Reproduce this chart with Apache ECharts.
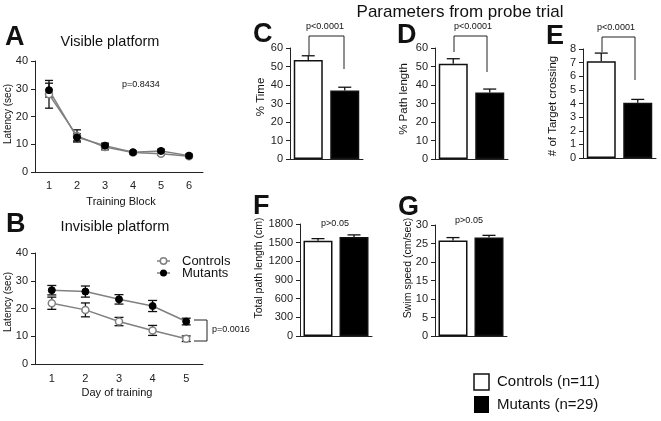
<!DOCTYPE html>
<html><head><meta charset="utf-8">
<script src="https://cdn.jsdelivr.net/npm/echarts@6/dist/echarts.min.js"></script>
<style>html,body{margin:0;padding:0;background:#fff}#c{width:661px;height:421px}</style>
</head><body><div id="c"></div>
<script>
// ---- data ----
const blocksA = ['1','2','3','4','5','6'];
const visCtrl = [28, 13, 9, 7, 6.6, 5.7];
const visCtrlErr = [5, 2.2, 1, 0.6, 0.6, 0.5];
const visMut = [29.5, 12.5, 9.5, 7.1, 7.6, 5.9];
const visMutErr = [2.5, 1.3, 0.9, 0.5, 0.6, 0.5];

const daysB = ['1','2','3','4','5'];
const invCtrl = [21.9, 19.5, 15.3, 12.1, 9.1];
const invCtrlErr = [2.2, 2.5, 1.5, 1.8, 1.0];
const invMut = [26.6, 26.1, 23.3, 20.9, 15.3];
const invMutErr = [1.7, 2.0, 1.7, 2.0, 1.2];

const groups = ['Controls', 'Mutants'];
const pctTime = [53.5, 37.0];      const pctTimeErr = [2.3, 1.8];
const pctPath = [51.5, 36.0];      const pctPathErr = [2.7, 1.8];
const crossings = [7.1, 4.05];     const crossingsErr = [0.6, 0.25];
const totalPath = [1530, 1590];    const totalPathErr = [35, 35];
const swimSpeed = [25.8, 26.6];    const swimSpeedErr = [0.8, 0.6];

// ---- chart ----
const FF = 'Liberation Sans, Arial, Helvetica, sans-serif';
const AX = '#222';
const chart = echarts.init(document.getElementById('c'), null, {renderer:'canvas'});

const grids = [
  {left:35, top:61, width:168, height:111},
  {left:35, top:253, width:168, height:111},
  {left:290, top:48, width:73, height:111},
  {left:435, top:48, width:73, height:111},
  {left:583, top:49, width:73, height:109},
  {left:300, top:224, width:72, height:112},
  {left:435, top:225, width:72, height:111}
];

function xAx(i, data, showLabel, margin) {
  return {gridIndex:i, type:'category', data:data, boundaryGap:true,
    axisLine:{lineStyle:{color:AX, width:1}},
    axisTick:{alignWithLabel:true, length:3, lineStyle:{color:AX}},
    axisLabel:{show:showLabel, color:AX, fontFamily:FF, fontSize:11, margin:margin||7},
    splitLine:{show:false}};
}
function yAx(i, max, interval) {
  return {gridIndex:i, type:'value', min:0, max:max, interval:interval,
    axisLine:{show:true, lineStyle:{color:AX, width:1}},
    axisTick:{show:true, length:4, lineStyle:{color:AX}},
    axisLabel:{color:AX, fontFamily:FF, fontSize:11, margin:7, formatter:(v)=>String(v)},
    splitLine:{show:false}};
}

function errSeries(idx, means, errs, upOnly, cap) {
  return {type:'custom', xAxisIndex:idx, yAxisIndex:idx, z:3, silent:true, clip:false,
    data: means.map((m,i)=>[i, m, errs[i]]),
    renderItem: function(params, api){
      const x = api.value(0), m = api.value(1), e = api.value(2);
      const t = api.coord([x, m+e]);
      const b = api.coord([x, upOnly ? m : m-e]);
      const st = {stroke:'#111', lineWidth:1.3};
      const ch = [
        {type:'line', shape:{x1:t[0], y1:t[1], x2:b[0], y2:b[1]}, style:st},
        {type:'line', shape:{x1:t[0]-cap/2, y1:t[1], x2:t[0]+cap/2, y2:t[1]}, style:st}
      ];
      if (!upOnly) ch.push({type:'line', shape:{x1:b[0]-cap/2, y1:b[1], x2:b[0]+cap/2, y2:b[1]}, style:st});
      return {type:'group', children:ch};
    }};
}
function lineSeries(idx, vals, filled) {
  return {type:'line', xAxisIndex:idx, yAxisIndex:idx, data:vals, z:4,
    symbol:'circle', symbolSize:7,
    lineStyle:{color:'#808080', width:1.5},
    itemStyle: filled ? {color:'#000', borderColor:'#000', borderWidth:1}
                      : {color:'#fff', borderColor:'#808080', borderWidth:1.5}};
}
function barSeries(idx, vals) {
  return {type:'bar', xAxisIndex:idx, yAxisIndex:idx, barWidth:29, z:2,
    data: vals.map((v,i)=>({value:v, itemStyle:{color: i===0 ? '#fff' : '#000', borderColor:'#111', borderWidth:1.5}}))};
}

function txt(x, y, text, size, opts) {
  opts = opts || {};
  return {type:'text', x:x, y:y, rotation: opts.rot || 0, z:10,
    style:{text:text, fontSize:size, fontFamily:FF, fontWeight: opts.bold ? 'bold' : 'normal',
      fill:'#111', align: opts.align || 'center', verticalAlign:'middle',
      textAlign: opts.align || 'center', textVerticalAlign:'middle'}};
}
function pl(points) {
  return {type:'polyline', z:10, shape:{points:points}, style:{stroke:'#222', lineWidth:1, fill:null}};
}
const R = Math.PI/2;

const graphics = [
  txt(460, 12, 'Parameters from probe trial', 17),
  txt(5, 38, 'A', 27, {bold:true, align:'left'}),
  txt(6, 225, 'B', 27, {bold:true, align:'left'}),
  txt(253, 35, 'C', 27, {bold:true, align:'left'}),
  txt(397, 36, 'D', 27, {bold:true, align:'left'}),
  txt(546, 37, 'E', 27, {bold:true, align:'left'}),
  txt(253, 207, 'F', 27, {bold:true, align:'left'}),
  txt(398, 208, 'G', 27, {bold:true, align:'left'}),
  txt(110, 42, 'Visible platform', 14.5),
  txt(115, 227, 'Invisible platform', 14.5),
  txt(8, 114, 'Latency (sec)', 10, {rot:R}),
  txt(8, 302, 'Latency (sec)', 10, {rot:R}),
  txt(121, 202, 'Training Block', 11),
  txt(117, 393, 'Day of training', 11),
  txt(122, 85, 'p=0.8434', 9, {align:'left'}),
  txt(212, 330, 'p=0.0016', 9, {align:'left'}),
  pl([[194,320],[207,320],[207,341],[194,341]]),
  // B legend
  {type:'line', z:10, shape:{x1:157, y1:261, x2:170, y2:261}, style:{stroke:'#808080', lineWidth:1.5}},
  {type:'circle', z:11, shape:{cx:163.5, cy:261, r:3.2}, style:{fill:'#fff', stroke:'#808080', lineWidth:1.5}},
  {type:'line', z:10, shape:{x1:157, y1:273, x2:170, y2:273}, style:{stroke:'#808080', lineWidth:1.5}},
  {type:'circle', z:11, shape:{cx:163.5, cy:273, r:3.5}, style:{fill:'#000'}},
  txt(182, 261, 'Controls', 13, {align:'left'}),
  txt(182, 273, 'Mutants', 13, {align:'left'}),
  // bar panel axis names
  txt(261, 97, '% Time', 11.5, {rot:R}),
  txt(404, 99, '% Path length', 11.5, {rot:R}),
  txt(553, 106, '# of Target crossing', 11.5, {rot:R}),
  txt(259, 268, 'Total path length (cm)', 10.5, {rot:R}),
  txt(408, 268, 'Swim speed (cm/sec)', 10.5, {rot:R}),
  // p-values and brackets
  txt(325, 27, 'p<0.0001', 9),
  pl([[309,55],[309,36],[344,36],[344,69]]),
  txt(473, 27, 'p<0.0001', 9),
  pl([[454,52],[454,36],[487,36],[487,72]]),
  txt(616, 28, 'p<0.0001', 9),
  pl([[602,52],[602,37],[635,37],[635,80]]),
  txt(335, 224, 'p>0.05', 9),
  txt(469, 221, 'p>0.05', 9),
  // bottom legend
  {type:'rect', z:10, shape:{x:474, y:374, width:15, height:16}, style:{fill:'#fff', stroke:'#111', lineWidth:1.5}},
  {type:'rect', z:10, shape:{x:474, y:396, width:15, height:17}, style:{fill:'#000'}},
  txt(497, 382, 'Controls (n=11)', 15, {align:'left'}),
  txt(497, 405, 'Mutants (n=29)', 15, {align:'left'})
];

chart.setOption({
  animation:false,
  backgroundColor:'#fff',
  grid: grids,
  xAxis: [
    xAx(0, blocksA, true, 8), xAx(1, daysB, true, 9),
    xAx(2, groups, false), xAx(3, groups, false), xAx(4, groups, false),
    xAx(5, groups, false), xAx(6, groups, false)
  ],
  yAxis: [
    yAx(0, 40, 10), yAx(1, 40, 10),
    yAx(2, 60, 10), yAx(3, 60, 10), yAx(4, 8, 1),
    yAx(5, 1800, 300), yAx(6, 30, 5)
  ],
  series: [
    errSeries(0, visCtrl, visCtrlErr, false, 8),
    errSeries(0, visMut, visMutErr, false, 8),
    lineSeries(0, visCtrl, false),
    lineSeries(0, visMut, true),
    errSeries(1, invCtrl, invCtrlErr, false, 9),
    errSeries(1, invMut, invMutErr, false, 9),
    lineSeries(1, invCtrl, false),
    lineSeries(1, invMut, true),
    barSeries(2, pctTime), errSeries(2, pctTime, pctTimeErr, true, 13),
    barSeries(3, pctPath), errSeries(3, pctPath, pctPathErr, true, 13),
    barSeries(4, crossings), errSeries(4, crossings, crossingsErr, true, 13),
    barSeries(5, totalPath), errSeries(5, totalPath, totalPathErr, true, 13),
    barSeries(6, swimSpeed), errSeries(6, swimSpeed, swimSpeedErr, true, 13)
  ],
  graphic: graphics
});
</script></body></html>
